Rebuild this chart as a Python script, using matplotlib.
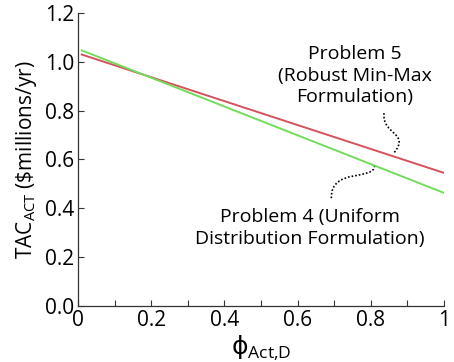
import numpy as np
import matplotlib.pyplot as plt
from matplotlib.path import Path
from matplotlib.patches import PathPatch

plt.rcParams['font.family'] = ['Open Sans', 'DejaVu Sans']
plt.rcParams['mathtext.fontset'] = 'custom'
plt.rcParams['mathtext.rm'] = 'Open Sans'
plt.rcParams['mathtext.sf'] = 'DejaVu Sans'

# data (end points of the two straight lines)
phi = [0.01, 1.0]
tac_p5 = [1.03, 0.545]   # Problem 5, robust min-max
tac_p4 = [1.047, 0.463]  # Problem 4, uniform distribution

xticks = [0, 0.2, 0.4, 0.6, 0.8, 1]
xticklabels = ['0', '0.2', '0.4', '0.6', '0.8', '1']
yticks = [0.0, 0.2, 0.4, 0.6, 0.8, 1.0, 1.2]

fig = plt.figure(figsize=(4.54, 3.62), dpi=100)
ax = fig.add_axes([0.172, 0.155, 0.806, 0.809])

ax.plot(phi, tac_p5, color='#d5525c', linewidth=1.4)
ax.plot(phi, tac_p4, color='#72dc5c', linewidth=1.4)

ax.set_xlim(0, 1)
ax.set_ylim(0, 1.2)
ax.set_xticks(xticks)
ax.set_xticklabels(xticklabels)
ax.set_xticks(np.arange(0.1, 1.0, 0.2), minor=True)
ax.set_yticks(yticks)
ax.set_yticklabels([f'{v:.1f}' for v in yticks])
ax.tick_params(which='both', direction='in', length=4, width=0.8, color='#333333',
               labelsize=15, pad=3)

for s in ['top', 'right']:
    ax.spines[s].set_visible(False)
for s in ['left', 'bottom']:
    ax.spines[s].set_color('#333333')
    ax.spines[s].set_linewidth(0.9)

ax.set_ylabel(r'TAC$_{\mathregular{ACT}}$ (\$millions/yr)', fontsize=15, labelpad=4)
ax.set_xlabel(r'$\mathsf{ϕ}_{\mathregular{Act{,}D}}$', fontsize=18, labelpad=2)

# labels with dotted squiggle connectors
ax.text(0.757, 0.943, 'Problem 5\n(Robust Min-Max\nFormulation)', ha='center', va='center',
        fontsize=14, linespacing=1.25)
ax.text(0.634, 0.32, 'Problem 4 (Uniform\nDistribution Formulation)', ha='center', va='center',
        fontsize=14, linespacing=1.25)

codes = [Path.MOVETO, Path.CURVE4, Path.CURVE4, Path.CURVE4]
p5 = Path([(0.836, 0.79), (0.83, 0.70), (0.91, 0.71), (0.862, 0.625)], codes)
p4 = Path([(0.81, 0.575), (0.81, 0.51), (0.69, 0.57), (0.692, 0.44)], codes)
for p in (p5, p4):
    ax.add_patch(PathPatch(p, facecolor='none', edgecolor='black', linewidth=1.2,
                           linestyle=(0, (1, 1.2))))

plt.savefig('out.png', dpi=100)
